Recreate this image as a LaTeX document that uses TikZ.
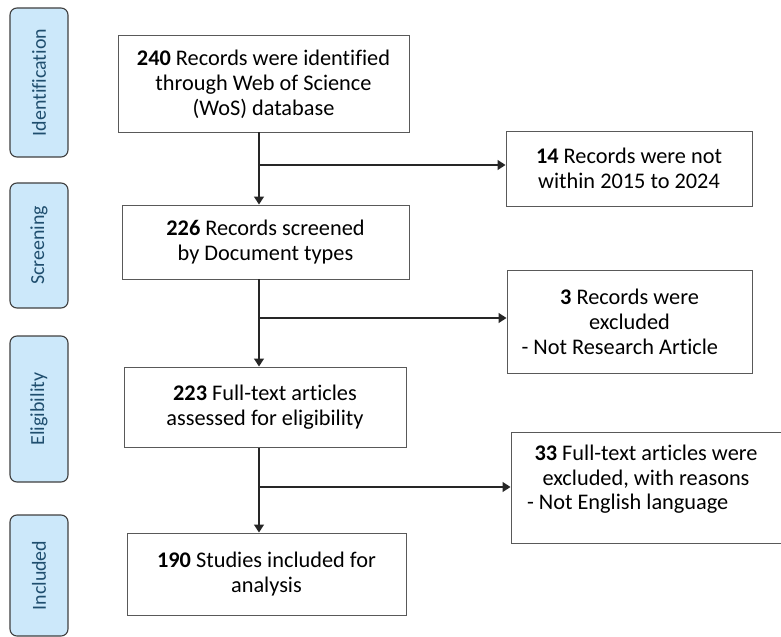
\documentclass[tikz,border=0pt]{standalone}
\usepackage{fontspec}
\setmainfont{Carlito}[Ligatures=NoCommon]
\usetikzlibrary{arrows.meta}
\definecolor{phasefill}{HTML}{CCE8FA}
\definecolor{phasetext}{HTML}{1F4E6E}
\definecolor{boxline}{HTML}{595959}
\tikzset{
  phase/.style={draw=black!75,line width=1.1pt,rounded corners=7pt,fill=phasefill,
    text=phasetext,rotate=90,minimum height=58bp,inner sep=0pt,
    font=\fontsize{20}{24}\selectfont},
  stage/.style={draw=boxline,line width=1pt,align=center,inner sep=0pt,
    font=\fontsize{22.4}{25}\selectfont},
  flow/.style={black!85,line width=1.3pt},
  arr/.style={flow,-{Triangle[length=8bp,width=10bp]}}
}
\begin{document}
\begin{tikzpicture}[x=1bp,y=-1bp]
    \useasboundingbox (0,0) rectangle (781,637);
    % phases on the left
    \node[phase,minimum width=149bp] (ident) at (39,82.5){Identification};
    \node[phase,minimum width=125bp] (screen) at (39,245.5){Screening};
    \node[phase,minimum width=146bp] (elig) at (39,409){Eligibility};
    \node[phase,minimum width=121bp] (incl) at (39,575.5){Included};
    % main column
    \node[stage,minimum width=291bp,minimum height=96bp] (rec) at (263.5,84)
        {\textbf{240} Records were identified\\through Web of Science\\(WoS) database};
    \node[stage,minimum width=287bp,minimum height=74bp] (scr) at (265.5,242)
        {\textbf{226} Records screened\\by Document types};
    \node[stage,minimum width=282bp,minimum height=80bp] (full) at (265,407)
        {\textbf{223} Full-text articles\\assessed for eligibility};
    \node[stage,minimum width=279bp,minimum height=82bp] (incd) at (266.5,574)
        {\textbf{190} Studies included for\\analysis};
    % excluded column
    \node[stage,minimum width=246bp,minimum height=75bp] (excl1) at (629,168.5)
        {\textbf{14} Records were not\\within 2015 to 2024};
    \node[stage,minimum width=245bp,minimum height=103bp] (excl2) at (629.5,321.5)
        {\textbf{3} Records were\\excluded\\\makebox[216bp][l]{- Not Research Article}};
    \node[stage,minimum width=270bp,minimum height=111bp] (excl3) at (646,487.5)
        {\textbf{33} Full-text articles were\\excluded, with reasons\\\makebox[238bp][l]{- Not English language}\\[-12bp]\strut};
    % junctions
    \coordinate (j1) at (259,165);
    \coordinate (j2) at (259,318);
    \coordinate (j3) at (259,487);
    \draw[arr] (j1 |- rec.south) -- (j1 |- scr.north);
    \draw[arr] (j2 |- scr.south) -- (j2 |- full.north);
    \draw[arr] (j3 |- full.south) -- (j3 |- incd.north);
    \draw[arr] (j1) -- (j1 -| excl1.west);
    \draw[arr] (j2) -- (j2 -| excl2.west);
    \draw[arr] (j3) -- (j3 -| excl3.west);
\end{tikzpicture}
\end{document}
